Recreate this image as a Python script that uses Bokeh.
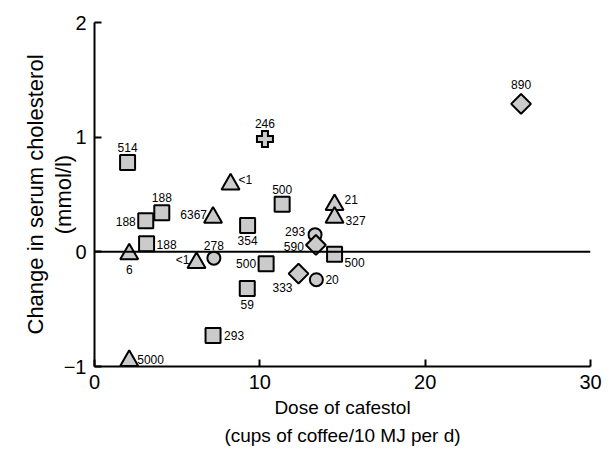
from bokeh.plotting import figure
from bokeh.models import Range1d, FixedTicker, Span, ColumnDataSource
from bokeh.core.properties import value
from bokeh.embed import file_html
from bokeh.resources import INLINE

# ---- data (dose of cafestol, change in serum cholesterol, label) ----
sq_x = [2.0, 3.15, 3.1, 4.07, 9.26, 11.35, 10.38, 9.24, 14.52, 7.17]
sq_y = [0.78, 0.07, 0.27, 0.34, 0.23, 0.415, -0.105, -0.32, -0.02, -0.73]
sq_lab = ["514", "188", "188", "188", "354", "500", "500", "59", "500", "293"]

tri_x = [2.1, 7.17, 8.23, 6.17, 14.52, 14.52, 2.1]
tri_y = [-0.02, 0.30, 0.59, -0.095, 0.41, 0.30, -0.95]
tri_lab = ["6", "6367", "<1", "<1", "21", "327", "5000"]

circ_x = [7.22, 13.34, 13.42]
circ_y = [-0.055, 0.15, -0.243]
circ_lab = ["278", "293", "20"]

dia_x = [13.39, 12.34, 25.8]
dia_y = [0.06, -0.19, 1.29]
dia_lab = ["590", "333", "890"]

cross_x = [10.31]
cross_y = [0.985]
cross_lab = ["246"]

x_ticks = [0, 10, 20, 30]
y_ticks = [-1, 0, 1, 2]

# ---- label placement (screen px offsets, alignment) ----
sq_off = [(0, -15, "center"), (10, 1, "left"), (-10, 1, "right"), (0, -15, "center"),
          (0, 15, "center"), (0, -15, "center"), (-10, 0, "right"), (0, 16, "center"),
          (10, 8, "left"), (11, 0, "left")]
tri_off = [(0, 15, "center"), (-6, -3, "right"), (8, -4, "left"), (-7, -3, "right"),
           (10, -5, "left"), (11, 3, "left"), (8, -1, "left")]
circ_off = [(0, -13, "center"), (-10, -3, "right"), (9, 0, "left")]
dia_off = [(-12, 2, "right"), (-6, 14, "right"), (0, -19, "center")]
cross_off = [(0, -15, "center")]

GRAY = "#cbcbcb"
FONT = "Liberation Sans"

p = figure(width=605, height=457, x_range=Range1d(0, 30), y_range=Range1d(-1, 2),
           output_backend="svg", toolbar_location=None,
           min_border_left=94, min_border_right=15, min_border_top=22, min_border_bottom=91)
p.outline_line_color = None
p.grid.visible = False

for ax in (p.xaxis[0], p.yaxis[0]):
    ax.axis_line_width = 2
    ax.axis_line_color = "black"
    ax.major_tick_line_width = 2
    ax.major_tick_line_color = "black"
    ax.major_tick_in = 7
    ax.major_tick_out = 0
    ax.minor_tick_in = 0
    ax.minor_tick_out = 0
    ax.major_label_text_font = FONT
    ax.major_label_text_font_size = "20px"
    ax.major_label_text_color = "black"
    ax.major_label_standoff = 8
    ax.axis_label_text_font = FONT
    ax.axis_label_text_font_style = "normal"
    ax.axis_label_text_color = "black"

p.xaxis.ticker = FixedTicker(ticks=x_ticks)
p.yaxis.ticker = FixedTicker(ticks=y_ticks)
p.yaxis.major_label_overrides = {-1: "\u22121"}
p.xaxis.axis_label = "Dose of cafestol\n(cups of coffee/10 MJ per d)"
p.yaxis.axis_label = "Change in serum cholesterol\n(mmol/l)"
p.xaxis.axis_label_text_font_size = "19px"
p.xaxis.axis_label_standoff = 5
p.xaxis.axis_label_text_line_height = 1.35
p.yaxis.axis_label_text_font_size = "22px"
p.yaxis.axis_label_standoff = -15
p.yaxis.axis_label_text_line_height = 1.1

p.add_layout(Span(location=0, dimension="width", line_color="black", line_width=2))

p.scatter(sq_x, sq_y, marker="square", size=15, fill_color=GRAY, line_color="black", line_width=2)
p.scatter(tri_x, tri_y, marker="triangle", size=18, fill_color=GRAY, line_color="black", line_width=2)
p.scatter(circ_x, circ_y, marker="circle", size=13, fill_color=GRAY, line_color="black", line_width=2)
p.scatter(dia_x, dia_y, marker="square", angle=0.785398, size=14, fill_color=GRAY,
          line_color="black", line_width=2)

# filled plus-shaped marker built from rectangles
p.rect(cross_x, cross_y, width=18, height=8, width_units="screen", height_units="screen",
       fill_color="black", line_color=None)
p.rect(cross_x, cross_y, width=8, height=18, width_units="screen", height_units="screen",
       fill_color="black", line_color=None)
p.rect(cross_x, cross_y, width=14, height=4, width_units="screen", height_units="screen",
       fill_color=GRAY, line_color=None)
p.rect(cross_x, cross_y, width=4, height=14, width_units="screen", height_units="screen",
       fill_color=GRAY, line_color=None)

all_x = sq_x + tri_x + circ_x + dia_x + cross_x
all_y = sq_y + tri_y + circ_y + dia_y + cross_y
all_lab = sq_lab + tri_lab + circ_lab + dia_lab + cross_lab
all_off = sq_off + tri_off + circ_off + dia_off + cross_off
src = ColumnDataSource(dict(x=all_x, y=all_y, text=all_lab,
                            dx=[o[0] for o in all_off], dy=[o[1] for o in all_off],
                            align=[o[2] for o in all_off]))
p.text(x="x", y="y", text="text", x_offset="dx", y_offset="dy", text_align="align",
       text_baseline="middle", text_font=value(FONT), text_font_size="12px",
       text_color="black", source=src)

open("out.html", "w").write(file_html(p, INLINE))
